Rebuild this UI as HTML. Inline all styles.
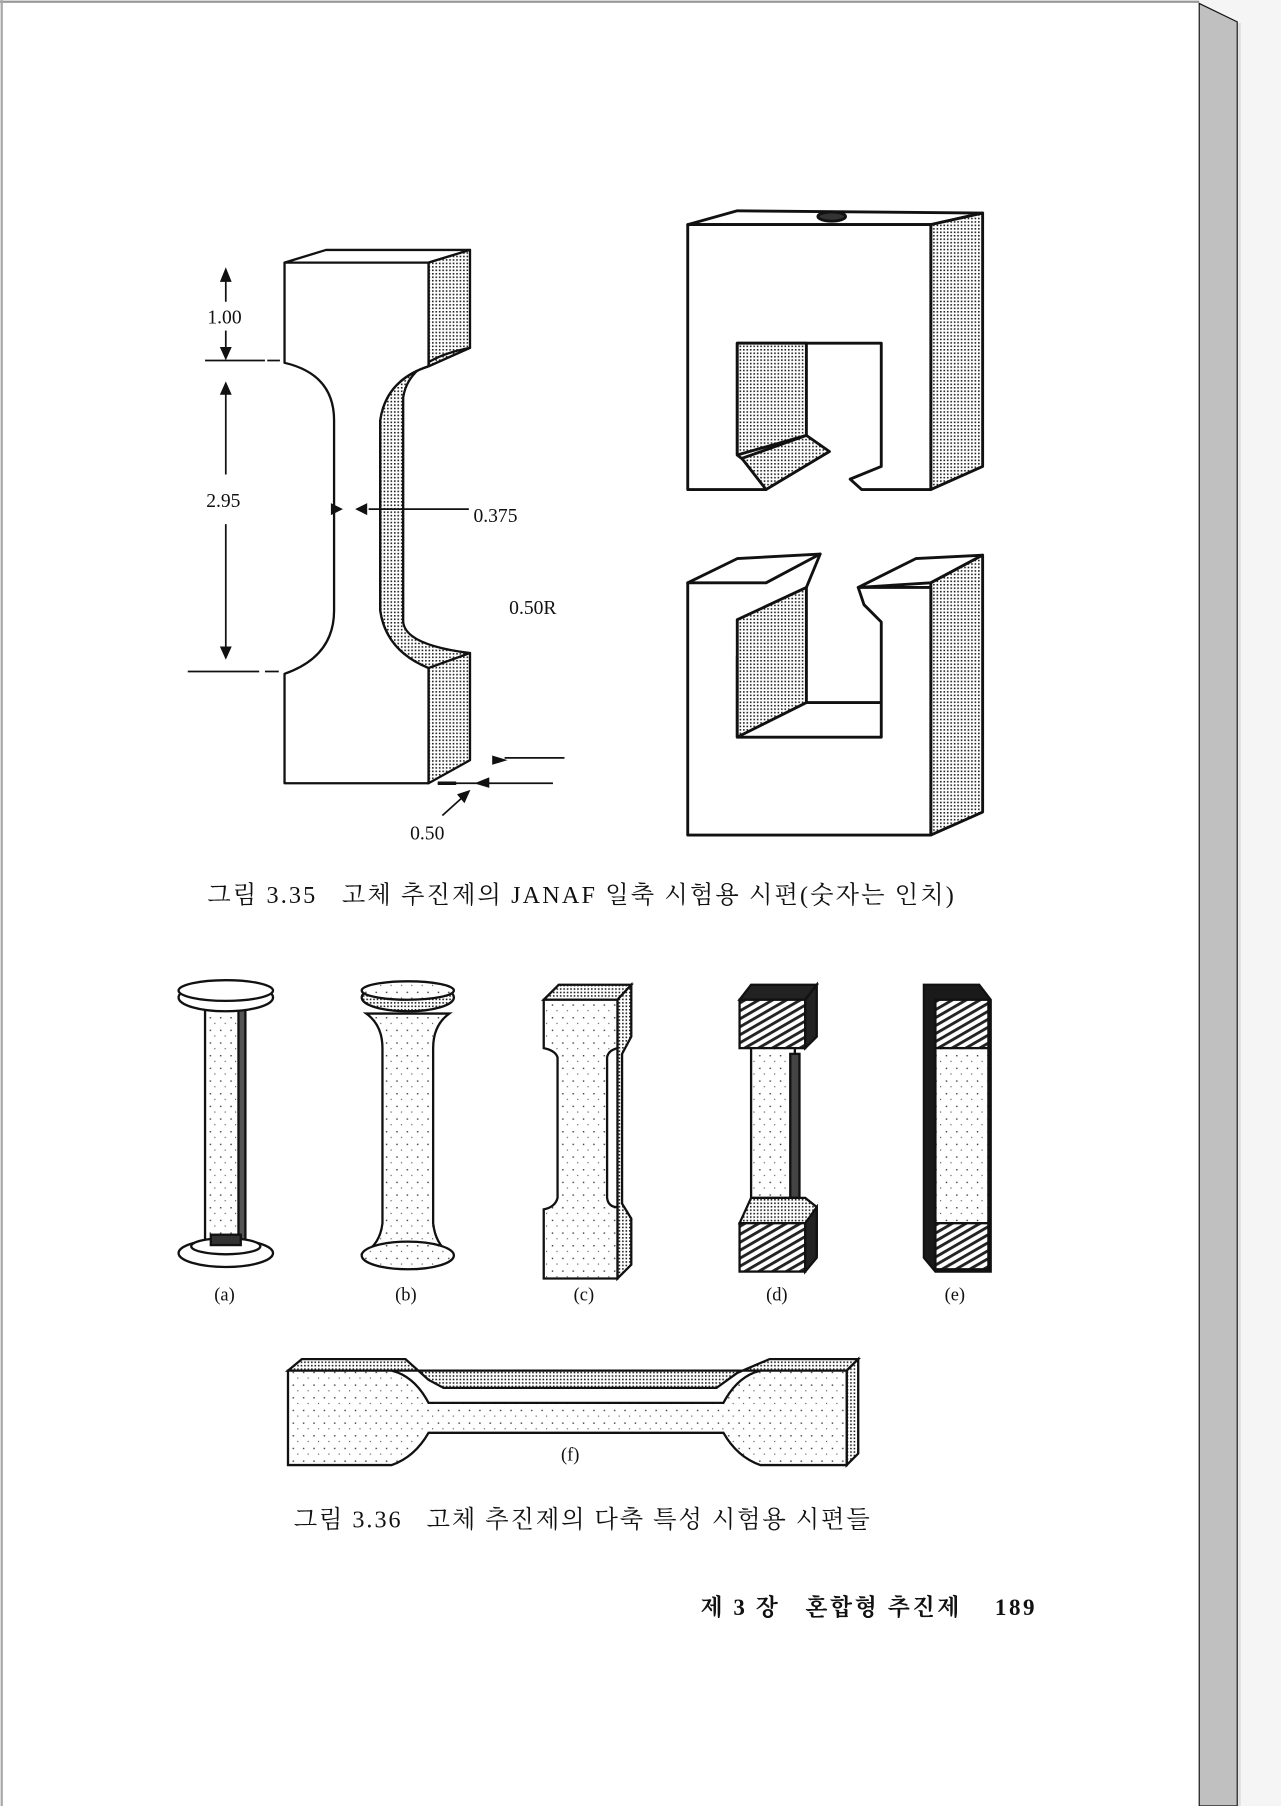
<!DOCTYPE html>
<html><head><meta charset="utf-8"><style>
html,body{margin:0;padding:0;background:#f5f5f5;}
svg{display:block;}
</style></head><body>
<svg width="1281" height="1806" viewBox="0 0 1112 1568" preserveAspectRatio="none" xmlns="http://www.w3.org/2000/svg">
<defs>
<pattern id="st" width="3" height="3" patternUnits="userSpaceOnUse">
<rect width="3" height="3" fill="#fff"/>
<rect x="0" y="0" width="1.4" height="1.4" fill="#222"/>
</pattern>
<pattern id="sp" width="9" height="11" patternUnits="userSpaceOnUse">
<rect width="9" height="11" fill="#fff"/>
<rect x="2" y="3" width="1.2" height="1.2" fill="#333"/>
<rect x="6" y="8" width="1" height="1" fill="#555"/>
</pattern>
<pattern id="ht" width="6" height="6" patternUnits="userSpaceOnUse" patternTransform="rotate(60)">
<rect width="6" height="6" fill="#fff"/>
<rect width="2.5" height="6" fill="#222"/>
</pattern>
</defs>
<rect x="0" y="0" width="1112" height="1568" fill="#f5f5f5"/>
<rect x="0" y="0" width="1041" height="1568" fill="#fff"/>
<line x1="0" y1="1.5" x2="1041" y2="1.5" stroke="#999" stroke-width="2"/>
<line x1="1.5" y1="0" x2="1.5" y2="1568" stroke="#aaa" stroke-width="2"/>
<polygon points="1041,3 1074,19 1074,1568 1041,1568" fill="#c0c0c0" stroke="#111" stroke-width="1"/>
<line x1="1076" y1="20" x2="1076" y2="1568" stroke="#ddd" stroke-width="2"/>

<g stroke="#111" stroke-width="2" fill="#fff" stroke-linejoin="round">
<polygon points="247,228 283,217 408,217 372,228" />
<polygon points="372,228 408,217 408,302 372,318" fill="url(#st)"/>
<path d="M330,365 Q335,330 372,318 L408,302 Q355,312 350,345 V540 Q352,560 408,567 L372,580 Q335,565 330,530 Z" fill="url(#st)"/>
<polygon points="372,580 408,567 408,660 372,680" fill="url(#st)"/>
<path d="M247,228 H372 V318 Q335,330 330,365 V530 Q335,565 372,580 V680 H247 V585 Q290,570 290,530 V365 Q290,325 247,315 Z"/>
</g>
<g stroke="#111" stroke-width="1.5" fill="#111">
<line x1="196" y1="238" x2="196" y2="262"/><polygon points="192,244 196,234 200,244"/>
<line x1="196" y1="287" x2="196" y2="308"/><polygon points="192,302 196,311 200,302"/>
<line x1="178" y1="313" x2="230" y2="313"/><line x1="232" y1="313" x2="243" y2="313"/>
<line x1="196" y1="340" x2="196" y2="412"/><polygon points="192,342 196,333 200,342"/>
<line x1="196" y1="455" x2="196" y2="566"/><polygon points="192,562 196,571 200,562"/>
<line x1="163" y1="583" x2="225" y2="583"/><line x1="230" y1="583" x2="242" y2="583"/>
<polygon points="288,438 296,442 288,446"/><polygon points="318,438 310,442 318,446"/>
<line x1="320" y1="442" x2="407" y2="442"/>
<polygon points="428,657 438,660 428,663"/><line x1="438" y1="658" x2="490" y2="658"/>
<polygon points="424,676 414,680 424,683"/><line x1="380" y1="680" x2="480" y2="680" /><line x1="380" y1="680" x2="396" y2="680" stroke-width="3"/>
<line x1="384" y1="708" x2="404" y2="690"/><polygon points="398,690 407,687 403,696"/>
</g>
<g font-family="Liberation Serif, serif" font-size="17" fill="#111">
<text x="180" y="281">1.00</text>
<text x="179" y="440">2.95</text>
<text x="411" y="453">0.375</text>
<text x="442" y="533">0.50R</text>
<text x="356" y="729">0.50</text>
</g>

<g stroke="#111" stroke-width="2.5" fill="#fff" stroke-linejoin="round">
<polygon points="597,195 640,183 853,185 808,195"/>
<ellipse cx="722" cy="188" rx="12" ry="4" fill="#333"/>
<polygon points="808,195 853,185 853,405 808,425" fill="url(#st)"/>
<path d="M597,195 H808 V425 H748 L738,416 L765,405 V298 H640 V395 L655,407 L665,425 H597 Z"/>
<polygon points="640,298 700,298 700,378 640,395" fill="url(#st)"/>
<polygon points="644,398 700,378 720,392 665,425" fill="url(#st)"/>
<polygon points="597,506 640,485 712,481 665,510" />
<polygon points="745,510 795,485 853,482 808,506"/>
<polygon points="808,506 853,482 853,705 808,725" fill="url(#st)"/>
<path d="M597,506 H665 L712,481 L700,510 L640,570 V640 H765 V540 L750,525 L745,510 H808 V725 H597 Z"/>
<polygon points="640,538 700,510 700,610 640,640" fill="url(#st)"/>
<line x1="700" y1="610" x2="765" y2="610"/>
</g>

<g font-family="Liberation Serif, 'Noto Serif CJK SC', 'Noto Sans CJK KR', serif" font-size="21" fill="#111" xml:space="preserve">
<text x="180" y="784" textLength="648" lengthAdjust="spacing" style="white-space:pre">그림 3.35   고체 추진제의 JANAF 일축 시험용 시편(숫자는 인치)</text>
<text x="255" y="1326" textLength="500" lengthAdjust="spacing" style="white-space:pre">그림 3.36   고체 추진제의 다축 특성 시험용 시편들</text>
<text x="608" y="1402" font-weight="bold" font-size="20" textLength="290" lengthAdjust="spacing" style="white-space:pre">제 3 장   혼합형 추진제    189</text>
</g>

<g stroke="#111" stroke-width="2" fill="#fff">
<rect x="178" y="872" width="35" height="205" fill="url(#sp)"/>
<rect x="207" y="872" width="6" height="205" fill="#555"/>
<ellipse cx="196" cy="866" rx="41" ry="12"/>
<ellipse cx="196" cy="860" rx="41" ry="9"/>
<ellipse cx="196" cy="1088" rx="41" ry="12"/>
<ellipse cx="196" cy="1082" rx="30" ry="7"/>
<rect x="183" y="1072" width="26" height="9" fill="#333"/>
<path d="M318,880 Q332,890 332,910 V1062 Q330,1080 316,1088 H390 Q378,1080 376,1062 V910 Q376,890 390,880 Z" fill="url(#sp)"/>
<ellipse cx="354" cy="866" rx="40" ry="12" fill="url(#st)"/>
<ellipse cx="354" cy="860" rx="40" ry="8" fill="url(#sp)"/>
<ellipse cx="354" cy="1090" rx="40" ry="12" fill="url(#sp)"/>
<polygon points="472,868 485,855 548,855 536,868" fill="url(#st)"/>
<path d="M536,868 L548,855 V900 L540,915 V1045 L548,1058 V1098 L536,1110 Z" fill="url(#st)"/>
<path d="M472,868 H536 V910 Q528,912 527,918 V1040 Q528,1048 536,1048 V1110 H472 V1050 Q482,1048 484,1040 V918 Q482,912 472,910 Z" fill="url(#sp)"/>
<polygon points="642,868 652,855 709,855 699,868" fill="#222"/>
<rect x="642" y="868" width="57" height="42" fill="url(#ht)"/>
<polygon points="699,868 709,855 709,900 699,910" fill="#222"/>
<path d="M652,910 H690 V1040 H652 Z" fill="url(#sp)"/>
<rect x="686" y="915" width="8" height="125" fill="#444"/>
<path d="M642,1062 L652,1040 H699 L709,1048 V1090 L699,1062 Z" fill="url(#st)"/>
<rect x="642" y="1062" width="57" height="42" fill="url(#ht)"/>
<polygon points="699,1062 709,1048 709,1092 699,1104" fill="#222"/>
<polygon points="802,855 850,855 860,868 860,1104 812,1104 802,1092" fill="#1a1a1a"/>
<rect x="812" y="868" width="46" height="42" fill="url(#ht)"/>
<rect x="812" y="910" width="46" height="152" fill="url(#sp)"/>
<rect x="812" y="1062" width="46" height="40" fill="url(#ht)"/>
<path d="M250,1190 L262,1180 H352 L372,1198 L385,1205 H622 L640,1192 L668,1180 H745 L735,1190 Z" fill="url(#st)"/>
<polygon points="735,1190 745,1180 745,1262 735,1272" fill="url(#st)"/>
<path d="M250,1190 H340 Q360,1195 372,1218 H628 Q640,1195 660,1190 H735 V1272 H660 Q640,1265 628,1244 H372 Q360,1265 340,1272 H250 Z" fill="url(#sp)"/>
</g>
<g font-family="Liberation Serif, serif" font-size="16" fill="#111">
<text x="186" y="1129">(a)</text>
<text x="343" y="1129">(b)</text>
<text x="498" y="1129">(c)</text>
<text x="665" y="1129">(d)</text>
<text x="820" y="1129">(e)</text>
<text x="487" y="1268">(f)</text>
</g>
</svg>
</body></html>
